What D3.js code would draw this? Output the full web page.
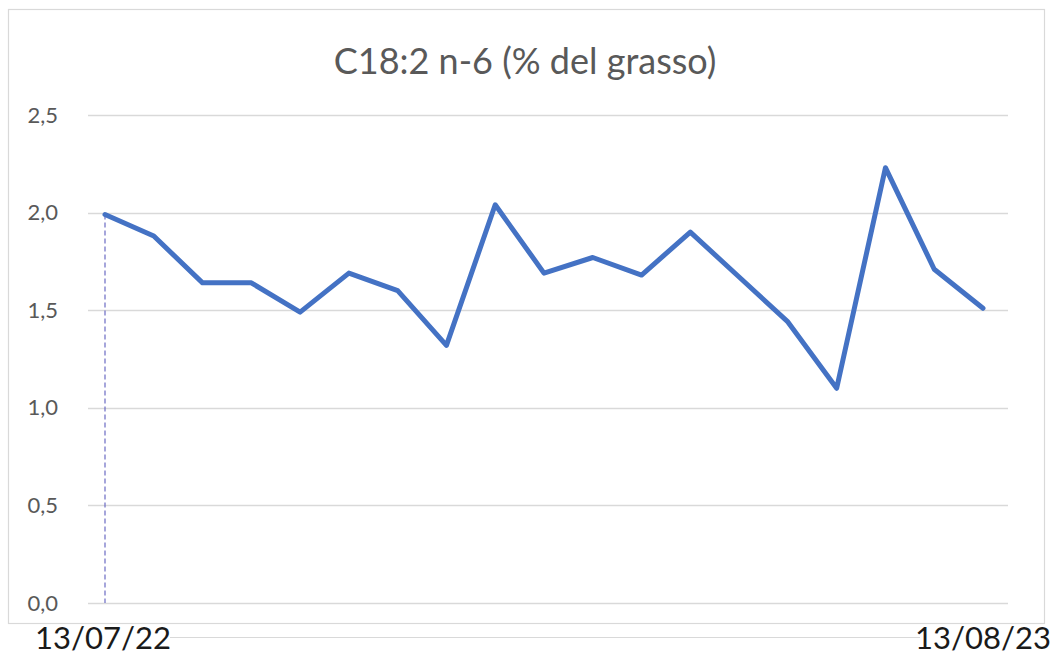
<!DOCTYPE html>
<html>
<head>
<meta charset="utf-8">
<script src="https://cdn.jsdelivr.net/npm/d3@7"></script>
<style>
  html, body { margin: 0; padding: 0; background: #fff; }
  svg { display: block; }
</style>
</head>
<body>
<svg id="chart" width="1059" height="662"></svg>
<script>
// Sample dates (index positions) and C18:2 n-6 values, % of fat
const samples = d3.range(19);
const values = [1.99, 1.88, 1.64, 1.64, 1.49, 1.69, 1.60, 1.32, 2.04, 1.69,
                1.77, 1.68, 1.90, 1.67, 1.44, 1.10, 2.23, 1.71, 1.51];
const yTicks = [0, 0.5, 1.0, 1.5, 2.0, 2.5];
const xLabels = ["13/07/22", "13/08/23"];
const title = "C18:2 n-6 (% del grasso)";

const svg = d3.select("#chart");
const font = "Lato, 'Open Sans', sans-serif";

// chart frame
svg.append("rect")
  .attr("x", 8.5).attr("y", 9.5)
  .attr("width", 1036).attr("height", 614)
  .attr("fill", "#fff")
  .attr("stroke", "#d9d9d9").attr("stroke-width", 1.2);

const plot = { left: 88, right: 1008, top: 115, bottom: 603 };

const x = d3.scaleLinear().domain([0, samples.length - 1]).range([105, 983]);
const y = d3.scaleLinear().domain([0, 2.5]).range([plot.bottom, plot.top]);

// horizontal gridlines
svg.append("g")
  .selectAll("line")
  .data(yTicks)
  .join("line")
  .attr("x1", plot.left).attr("x2", plot.right)
  .attr("y1", d => Math.round(y(d)) + 0.5).attr("y2", d => Math.round(y(d)) + 0.5)
  .attr("stroke", "#d9d9d9").attr("stroke-width", 1.3);

// y axis labels
const yAxis = d3.axisLeft(y)
  .tickValues(yTicks)
  .tickSize(0)
  .tickPadding(0)
  .tickFormat(d => d3.format(".1f")(d).replace(".", ","));
const gy = svg.append("g")
  .attr("transform", `translate(58,0)`)
  .call(yAxis);
gy.select(".domain").remove();
gy.selectAll("text")
  .attr("font-family", font)
  .attr("font-size", 22)
  .attr("fill", "#595959");

// drop line from the first sample to the axis
svg.append("line")
  .attr("x1", x(samples[0])).attr("x2", x(samples[0]))
  .attr("y1", y(values[0])).attr("y2", y(0))
  .attr("stroke", "#6b6bc4").attr("stroke-width", 1.2)
  .attr("stroke-dasharray", "5,3");

// data line
const line = d3.line()
  .x((d, i) => x(samples[i]))
  .y(d => y(d));
svg.append("path")
  .datum(values)
  .attr("d", line)
  .attr("fill", "none")
  .attr("stroke", "#4472c4")
  .attr("stroke-width", 5)
  .attr("stroke-linejoin", "round")
  .attr("stroke-linecap", "round");

// title
svg.append("text")
  .attr("x", 525).attr("y", 74)
  .attr("text-anchor", "middle")
  .attr("font-family", font)
  .attr("font-size", 36)
  .attr("fill", "#595959")
  .text(title);

// bottom rule between the date labels
svg.append("line")
  .attr("x1", 170).attr("x2", 920)
  .attr("y1", 637.5).attr("y2", 637.5)
  .attr("stroke", "#d9d9d9").attr("stroke-width", 1.2);

// first and last date labels
svg.append("text")
  .attr("x", 35).attr("y", 649)
  .attr("font-family", font)
  .attr("font-size", 31)
  .attr("fill", "#1a1a1a")
  .text(xLabels[0]);
svg.append("text")
  .attr("x", 1051).attr("y", 649)
  .attr("text-anchor", "end")
  .attr("font-family", font)
  .attr("font-size", 31)
  .attr("fill", "#1a1a1a")
  .text(xLabels[1]);
</script>
</body>
</html>
